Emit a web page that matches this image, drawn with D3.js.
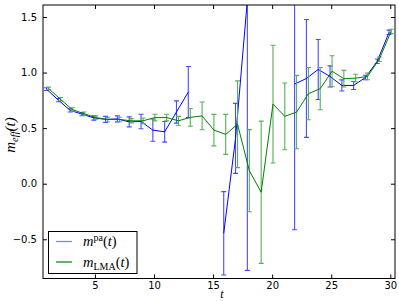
<!DOCTYPE html>
<html>
<head>
<meta charset="utf-8">
<script src="https://cdn.jsdelivr.net/npm/d3@7"></script>
<style>
  body { margin: 0; background: #fff; }
  text { font-family: "DejaVu Sans", sans-serif; }
</style>
</head>
<body>
<svg id="chart" width="399" height="301"></svg>
<script>
// time slices
const tValues = d3.range(1, 31);

// m^pa(t), null where not defined
const paMass = [0.851, 0.752, 0.660, 0.626, 0.592, 0.579, 0.583, 0.556, 0.560, 0.482,
                0.467, 0.645, 0.825, null, null, -0.446, 0.408, 1.65, null, null,
                null, 0.896, 0.947, 1.028, 0.965, 0.884, 0.884, 0.956, 1.102, 1.362];
const paErr = [0.012, 0.015, 0.015, 0.015, 0.02, 0.027, 0.027, 0.045, 0.065, 0.10,
               0.093, 0.10, 0.23, null, null, 0.375, 0.315, 2.43, null, null,
               null, 1.31, 0.53, 0.27, 0.095, 0.05, 0.036, 0.02, 0.02, 0.02];

// m_LMA(t)
const lmaMass = [0.857, 0.760, 0.668, 0.630, 0.595, 0.578, 0.578, 0.566, 0.566, 0.595,
                 0.595, 0.566, 0.597, 0.610, 0.482, 0.444, 0.535, 0.117, -0.077, 0.716,
                 0.606, 0.645, 0.810, 0.855, 1.012, 0.945, 0.950, 0.965, 1.120, 1.370];
const lmaErr = [0.012, 0.015, 0.015, 0.015, 0.015, 0.02, 0.02, 0.02, 0.025, 0.03,
                0.03, 0.04, 0.08, 0.125, 0.142, 0.18, 0.39, 0.37, 0.64, 0.53,
                0.30, 0.33, 0.235, 0.19, 0.14, 0.075, 0.035, 0.03, 0.02, 0.02];

const xTicks = [5, 10, 15, 20, 25, 30];
const yTicks = [-0.5, 0.0, 0.5, 1.0, 1.5];

const svg = d3.select("#chart");
const mLeft = 43, mRight = 395, mTop = 5, mBottom = 278.5;

const x = d3.scaleLinear().domain([0.6, 30.4]).range([mLeft, mRight]);
const y = d3.scaleLinear().domain([-0.853, 1.608]).range([mBottom, mTop]);

svg.append("clipPath").attr("id", "plotclip")
   .append("rect")
   .attr("x", mLeft).attr("y", mTop)
   .attr("width", mRight - mLeft).attr("height", mBottom - mTop);

const plot = svg.append("g").attr("clip-path", "url(#plotclip)");

const series = [
    {vals: paMass, errs: paErr, color: "#0000ff", barColor: "#4a4aff", shift: -0.1},
    {vals: lmaMass, errs: lmaErr, color: "#008000", barColor: "#5aae5a", shift: 0.07}
];

series.forEach(s => {
    const pts = tValues.map((t, i) => ({t: t + s.shift, v: s.vals[i], e: s.errs[i]}));
    const good = pts.filter(d => d.v !== null);

    const bars = plot.append("g");
    bars.selectAll("line.bar")
        .data(good).enter().append("line")
        .attr("x1", d => x(d.t)).attr("x2", d => x(d.t))
        .attr("y1", d => y(d.v - d.e)).attr("y2", d => y(d.v + d.e))
        .attr("stroke", s.barColor).attr("stroke-width", 1.1);
    [-1, 1].forEach(sign => {
        bars.selectAll(null)
            .data(good).enter().append("line")
            .attr("x1", d => x(d.t) - 2.5).attr("x2", d => x(d.t) + 2.5)
            .attr("y1", d => y(d.v + sign * d.e)).attr("y2", d => y(d.v + sign * d.e))
            .attr("stroke", s.barColor).attr("stroke-width", 1.1);
    });

    const line = d3.line()
        .defined(d => d.v !== null)
        .x(d => x(d.t)).y(d => y(d.v));
    plot.append("path")
        .datum(pts)
        .attr("d", line)
        .attr("fill", "none")
        .attr("stroke", s.color)
        .attr("stroke-width", 1);
});

// frame and inward ticks on all sides
svg.append("rect")
   .attr("x", mLeft).attr("y", mTop)
   .attr("width", mRight - mLeft).attr("height", mBottom - mTop)
   .attr("fill", "none").attr("stroke", "#000").attr("stroke-width", 1);

const tickLen = 4;
svg.append("g").attr("transform", `translate(0,${mBottom})`)
   .call(d3.axisBottom(x).tickValues(xTicks).tickSizeInner(-tickLen).tickSizeOuter(0).tickPadding(3))
   .call(g => g.select(".domain").remove())
   .call(g => g.selectAll("text").attr("font-size", 10).attr("fill", "#000"));
svg.append("g").attr("transform", `translate(0,${mTop})`)
   .call(d3.axisTop(x).tickValues(xTicks).tickSizeInner(-tickLen).tickSizeOuter(0).tickFormat(""))
   .call(g => g.select(".domain").remove());
svg.append("g").attr("transform", `translate(${mLeft},0)`)
   .call(d3.axisLeft(y).tickValues(yTicks).tickSizeInner(-tickLen).tickSizeOuter(0).tickPadding(6)
         .tickFormat(d => d3.format(".1f")(d).replace("-", "\u2212")))
   .call(g => g.select(".domain").remove())
   .call(g => g.selectAll("text").attr("font-size", 10).attr("fill", "#000"));
svg.append("g").attr("transform", `translate(${mRight},0)`)
   .call(d3.axisRight(y).tickValues(yTicks).tickSizeInner(-tickLen).tickSizeOuter(0).tickFormat(""))
   .call(g => g.select(".domain").remove());

// axis labels
svg.append("text")
   .attr("x", 222).attr("y", 298)
   .attr("text-anchor", "middle")
   .style("font-family", "'Liberation Serif', serif").style("font-style", "italic")
   .attr("font-size", 12).text("t");

const ylab = svg.append("text")
   .attr("transform", `translate(15,135) rotate(-90)`)
   .attr("text-anchor", "middle")
   .style("font-family", "'Liberation Serif', serif").style("font-style", "italic")
   .attr("font-size", 15);
ylab.append("tspan").text("m");
ylab.append("tspan").attr("font-size", 10.5).attr("dy", 3).text("eff");
ylab.append("tspan").attr("dy", -3).text("(t)");

// legend
const legend = svg.append("g");
legend.append("rect")
   .attr("x", 48.5).attr("y", 231.5).attr("width", 88.5).attr("height", 42)
   .attr("fill", "#fff").attr("stroke", "#000").attr("stroke-width", 1);

const legendItems = [
    {color: "#0000ff", opacity: 0.5, base: "m", sub: "pa", up: true},
    {color: "#008000", opacity: 1, base: "m", sub: "LMA", up: false}
];
legendItems.forEach((it, i) => {
    const ly = 241.5 + i * 20.5;
    legend.append("line")
        .attr("x1", 56).attr("x2", 72).attr("y1", ly).attr("y2", ly)
        .attr("stroke", it.color).attr("stroke-opacity", it.opacity).attr("stroke-width", 1.2);
    const tx = legend.append("text")
        .attr("x", 83).attr("y", ly + 4.5)
        .style("font-family", "'Liberation Serif', serif")
        .attr("font-size", 14.5);
    tx.append("tspan").style("font-style", "italic").text(it.base);
    tx.append("tspan").attr("font-size", 10).attr("dy", it.up ? -5.5 : 3).text(it.sub);
    tx.append("tspan").attr("dy", it.up ? 5.5 : -3).text("(");
    tx.append("tspan").style("font-style", "italic").text("t");
    tx.append("tspan").text(")");
});
</script>
</body>
</html>
